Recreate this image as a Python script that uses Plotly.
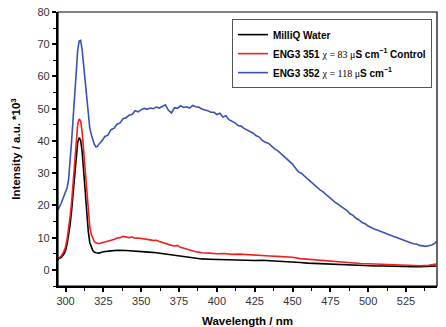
import plotly.graph_objects as go

# ---------------- data ----------------
wl_blue = [295, 297, 299, 301, 302, 303, 304, 305, 306, 307, 308, 309, 310, 311, 312, 313, 314, 315, 316, 317,
           318, 319, 320, 321, 322, 324, 326, 328, 330, 332, 334, 336, 338, 340, 342, 344, 346, 348, 350, 352,
           354, 356, 358, 360, 362, 364, 366, 368, 370, 372, 374, 376, 378, 380, 382, 384, 386, 388, 390, 392,
           394, 396, 398, 400, 402, 404, 406, 408, 410, 412, 414, 416, 418, 420, 422, 424, 426, 428, 430, 432,
           434, 436, 438, 440, 442, 444, 446, 448, 450, 452, 454, 456, 458, 460, 462, 464, 466, 468, 470, 472,
           474, 476, 478, 480, 482, 484, 486, 488, 490, 492, 494, 496, 498, 500, 502, 504, 506, 508, 510, 512,
           514, 516, 518, 520, 522, 524, 526, 528, 530, 532, 534, 536, 538, 540, 542, 544, 545]
int_blue = [18.6, 20.5, 23.0, 25.5, 28.0, 33.0, 40.0, 47.0, 55.0, 62.0, 68.0, 71.0, 71.2, 68.0, 63.0, 58.0, 53.0, 48.0, 44.0, 42.0,
            40.0, 39.0, 38.2, 38.3, 39.0, 40.0, 41.4, 41.8, 43.5, 43.9, 45.2, 45.6, 46.9, 47.2, 48.0, 48.3, 49.4, 49.0, 49.7, 50.1,
            49.8, 50.2, 50.0, 50.5, 50.2, 50.6, 51.2, 49.5, 48.7, 50.3, 50.1, 50.9, 50.4, 50.6, 50.2, 51.0, 50.6, 50.5, 49.9, 49.6,
            49.4, 48.9, 48.9, 48.2, 48.6, 47.4, 47.8, 46.6, 46.2, 45.6, 44.8, 44.6, 43.9, 43.4, 43.0, 42.4, 41.6, 41.2, 40.2, 39.6,
            39.3, 38.4, 37.6, 37.1, 36.2, 35.4, 34.4, 33.6, 32.8, 31.5, 30.4, 29.9, 28.9, 28.2, 27.4, 26.6, 25.5, 24.9, 24.3, 23.4,
            22.6, 21.9, 21.0, 20.4, 19.7, 19.0, 18.4, 17.4, 16.9, 16.0, 15.5, 14.7, 14.3, 13.6, 13.1, 12.7, 12.4, 12.0, 11.5, 11.2,
            10.9, 10.5, 10.2, 9.8, 9.4, 9.0, 8.7, 8.4, 8.1, 8.0, 7.6, 7.5, 7.3, 7.5, 7.7, 8.2, 8.8]

wl_red = [295, 297, 299, 300, 301, 302, 303, 304, 305, 306, 307, 308, 309, 310, 311, 312, 313, 314, 315, 316,
          317, 318, 319, 320, 322, 324, 326, 328, 330, 332, 334, 336, 338, 340, 342, 344, 346, 348, 350, 352,
          354, 356, 358, 360, 362, 364, 366, 368, 370, 372, 374, 376, 378, 380, 382, 384, 386, 388, 390, 395,
          400, 405, 410, 415, 420, 425, 430, 435, 440, 445, 450, 455, 460, 465, 470, 475, 480, 485, 490, 495,
          500, 505, 510, 515, 520, 525, 530, 535, 540, 545]
int_red = [3.6, 4.2, 5.8, 7.2, 9.5, 12.5, 16.5, 21.0, 27.0, 34.0, 40.5, 45.0, 46.8, 46.2, 42.5, 36.5, 30.0, 23.5, 17.5, 13.4,
           11.0, 9.6, 8.8, 8.4, 8.1, 8.4, 8.6, 8.9, 9.2, 9.4, 9.9, 10.0, 10.4, 10.2, 10.0, 10.2, 9.8, 9.9, 9.8, 9.5,
           9.6, 9.3, 9.1, 9.2, 8.8, 8.5, 8.0, 7.8, 7.6, 7.4, 7.6, 7.0, 6.7, 6.4, 6.1, 5.9, 5.6, 5.5, 5.3, 5.2,
           5.0, 5.1, 4.8, 4.9, 4.7, 4.6, 4.4, 4.3, 4.2, 4.1, 3.9, 3.5, 3.3, 3.1, 2.8, 2.7, 2.5, 2.4, 2.2, 2.0,
           1.9, 1.8, 1.6, 1.5, 1.4, 1.4, 1.3, 1.3, 1.4, 1.8]

wl_black = [295, 297, 299, 300, 301, 302, 303, 304, 305, 306, 307, 308, 309, 310, 311, 312, 313, 314, 315, 316,
            317, 318, 319, 320, 322, 325, 330, 335, 340, 345, 350, 355, 360, 365, 370, 375, 380, 385, 390, 395,
            400, 405, 410, 415, 420, 425, 430, 435, 440, 445, 450, 455, 460, 465, 470, 475, 480, 485, 490, 495,
            500, 505, 510, 515, 520, 525, 530, 535, 540, 545]
int_black = [3.4, 3.8, 5.0, 6.0, 8.0, 10.5, 14.0, 18.5, 24.0, 30.0, 35.5, 39.5, 41.0, 40.2, 36.5, 30.5, 24.0, 17.5, 12.0, 8.5,
             7.0, 6.0, 5.5, 5.3, 5.2, 5.6, 5.9, 6.1, 6.0, 5.9, 5.6, 5.5, 5.3, 5.0, 4.7, 4.3, 4.0, 3.6, 3.4, 3.3,
             3.2, 3.1, 3.0, 2.9, 2.9, 2.9, 3.0, 2.9, 2.8, 2.7, 2.6, 2.3, 2.1, 2.0, 1.8, 1.7, 1.6, 1.4, 1.3, 1.3,
             1.2, 1.2, 1.2, 1.1, 1.1, 1.0, 1.0, 1.0, 1.1, 1.2]

names = [
    "<b>MilliQ Water</b>",
    "<b>ENG3 351 </b><span style='font-family:Liberation Serif'>χ = 83 μ</span><b>S cm<sup>−1</sup> Control</b>",
    "<b>ENG3 352 </b><span style='font-family:Liberation Serif'>χ = 118 μ</span><b>S cm<sup>−1</sup></b>",
]
colors = ["#000000", "#f02020", "#3a52b0"]

x_ticks = [300, 325, 350, 375, 400, 425, 450, 475, 500, 525]
y_ticks = [0, 10, 20, 30, 40, 50, 60, 70, 80]

FONT = "Arial, Liberation Sans, sans-serif"

fig = go.Figure()
for wl, val, nm, col in [(wl_black, int_black, names[0], colors[0]),
                         (wl_red, int_red, names[1], colors[1]),
                         (wl_blue, int_blue, names[2], colors[2])]:
    fig.add_trace(go.Scatter(x=wl, y=val, mode="lines", name=nm,
                             line=dict(color=col, width=1.6)))

fig.update_layout(
    width=446, height=327,
    margin=dict(l=58, r=9, t=12, b=41),
    paper_bgcolor="white", plot_bgcolor="white",
    font=dict(family=FONT, size=11, color="#222"),
    legend=dict(x=0.459, y=0.974, xanchor="left", yanchor="top",
                bordercolor="#555", borderwidth=1, bgcolor="white",
                font=dict(family=FONT, size=10, color="#000"),
                tracegroupgap=0),
    xaxis=dict(range=[295, 545.5], tickvals=x_ticks, ticktext=[str(v) for v in x_ticks],
               ticks="outside", ticklen=4, tickwidth=1.5, tickcolor="#000",
               minor=dict(dtick=12.5, tick0=287.5, ticks="outside", ticklen=2.5, tickwidth=1.2, tickcolor="#000"),
               showline=True, linewidth=2.2, linecolor="#000", showgrid=False, zeroline=False,
               tickfont=dict(size=11, color="#333"), automargin=False,
               title=dict(text="<b>Wavelength / nm</b>", font=dict(size=11.5, color="#000"), standoff=16)),
    yaxis=dict(range=[-5, 80], tickvals=y_ticks, ticktext=[str(v) for v in y_ticks],
               ticks="outside", ticklen=4, tickwidth=1.5, tickcolor="#000",
               minor=dict(dtick=5, tick0=-5, ticks="outside", ticklen=2.5, tickwidth=1.2, tickcolor="#000"),
               showline=True, linewidth=2.2, linecolor="#000", showgrid=False, zeroline=False,
               tickfont=dict(size=11, color="#333"), automargin=False,
               title=dict(text="<b>Intensity / a.u. *10<sup>3</sup></b>", font=dict(size=11.5, color="#000"), standoff=14)),
    showlegend=True,
)
fig.add_shape(type="rect", xref="paper", yref="paper", x0=0, y0=0, x1=1, y1=1,
              line=dict(color="#000", width=1.2), fillcolor="rgba(0,0,0,0)", layer="above")

fig.write_html("out.html")
